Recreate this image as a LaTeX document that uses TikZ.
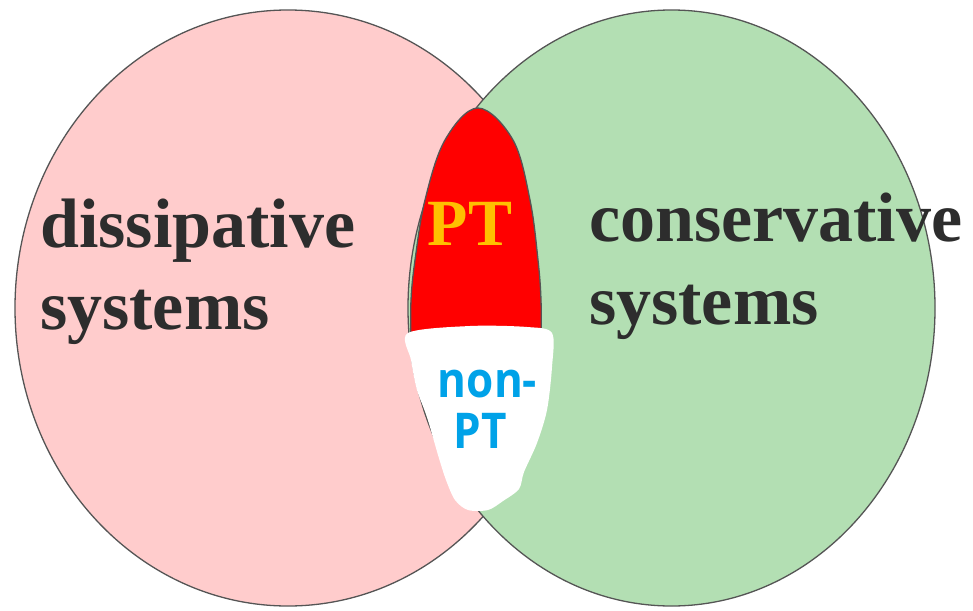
\documentclass[tikz,border=0pt]{standalone}
\usepackage{fontspec}
\setmainfont{Liberation Serif}
\newfontfamily\nonptfont{Open Sans}
\usetikzlibrary{positioning}
\definecolor{dissipink}{RGB}{255,204,204}
\definecolor{conservgreen}{RGB}{179,223,179}
\definecolor{ptorange}{RGB}{255,192,0}
\definecolor{nonptblue}{RGB}{0,162,232}
\definecolor{textgray}{RGB}{45,45,45}
\definecolor{rimgray}{RGB}{85,85,85}
\newcommand\systemset[4]{% colour, centre, x radius, y radius
\fill[#1] (#2) ellipse ({#3} and {#4});
\draw[rim] (#2) ellipse ({#3} and {#4});
}
\newcommand\tallword[1]{\scalebox{1}[1.12]{#1}}

\begin{document}
\begin{tikzpicture}[x=1pt,y=-1pt,
  rim/.style={rimgray,line width=1.3pt},
  bigword/.style={anchor=base west,text=textgray,inner sep=0pt,
    font=\bfseries\fontsize{70}{80}\selectfont},
  ptword/.style={text=ptorange,inner sep=0pt,
    font=\bfseries\fontsize{66}{70}\selectfont},
  nonptword/.style={text=nonptblue,inner sep=0pt,
    font=\nonptfont\bfseries\fontsize{44}{50}\selectfont}]
	%% some definitions
	\def\cut{340} % bottom of the red part, hidden by the patch

	\useasboundingbox (0,0) rectangle (973,610);

	\coordinate (dis) at (288,308);
	\coordinate (con) at (671.5,308);

	% the two sets, green on top
	\systemset{dissipink}{dis}{273pt}{298pt}
	\systemset{conservgreen}{con}{263.5pt}{298pt}

	% red part of the overlap
	\fill[red] plot[smooth,tension=0.6] coordinates {
		(411,\cut) (411,300) (415,260) (425,200) (445,140) (478,108)
		(513,140) (530,200) (538,260) (541,300) (541,\cut)} -- cycle;
	\draw[rim] plot[smooth,tension=0.6] coordinates {
		(411,\cut) (411,300) (415,260) (425,200) (445,140) (478,108)
		(513,140) (530,200) (538,260) (541,300) (541,\cut)};

	% hand painted white patch
	\fill[white] plot[smooth cycle,tension=0.5] coordinates {
		(408,333) (470,326) (527,327) (552,333) (552,367) (547,410)
		(537,443) (524,472) (519,489) (503,501) (488,510) (468,510)
		(455,500) (446,480) (438,455) (427,417) (417,390) (411,360)};

	% labels
	\node[bigword] (dissip) at (40,247) {dissipative};
	\node[bigword] (dissys) at ([yshift=-82pt]dissip.base west) {systems};
	\node[bigword] (conserv) at (589,241) {conservative};
	\node[bigword] (consys) at ([yshift=-83pt]conserv.base west) {systems};

	\node[ptword,anchor=base] (pt) at (470,245) {PT};
	\node[nonptword,anchor=base] (nonpt) at (487.5,397) {\tallword{non-}};
	\node[nonptword,anchor=base] (nonptb) at (480.5,448) {\tallword{PT}};
\end{tikzpicture}
\end{document}
